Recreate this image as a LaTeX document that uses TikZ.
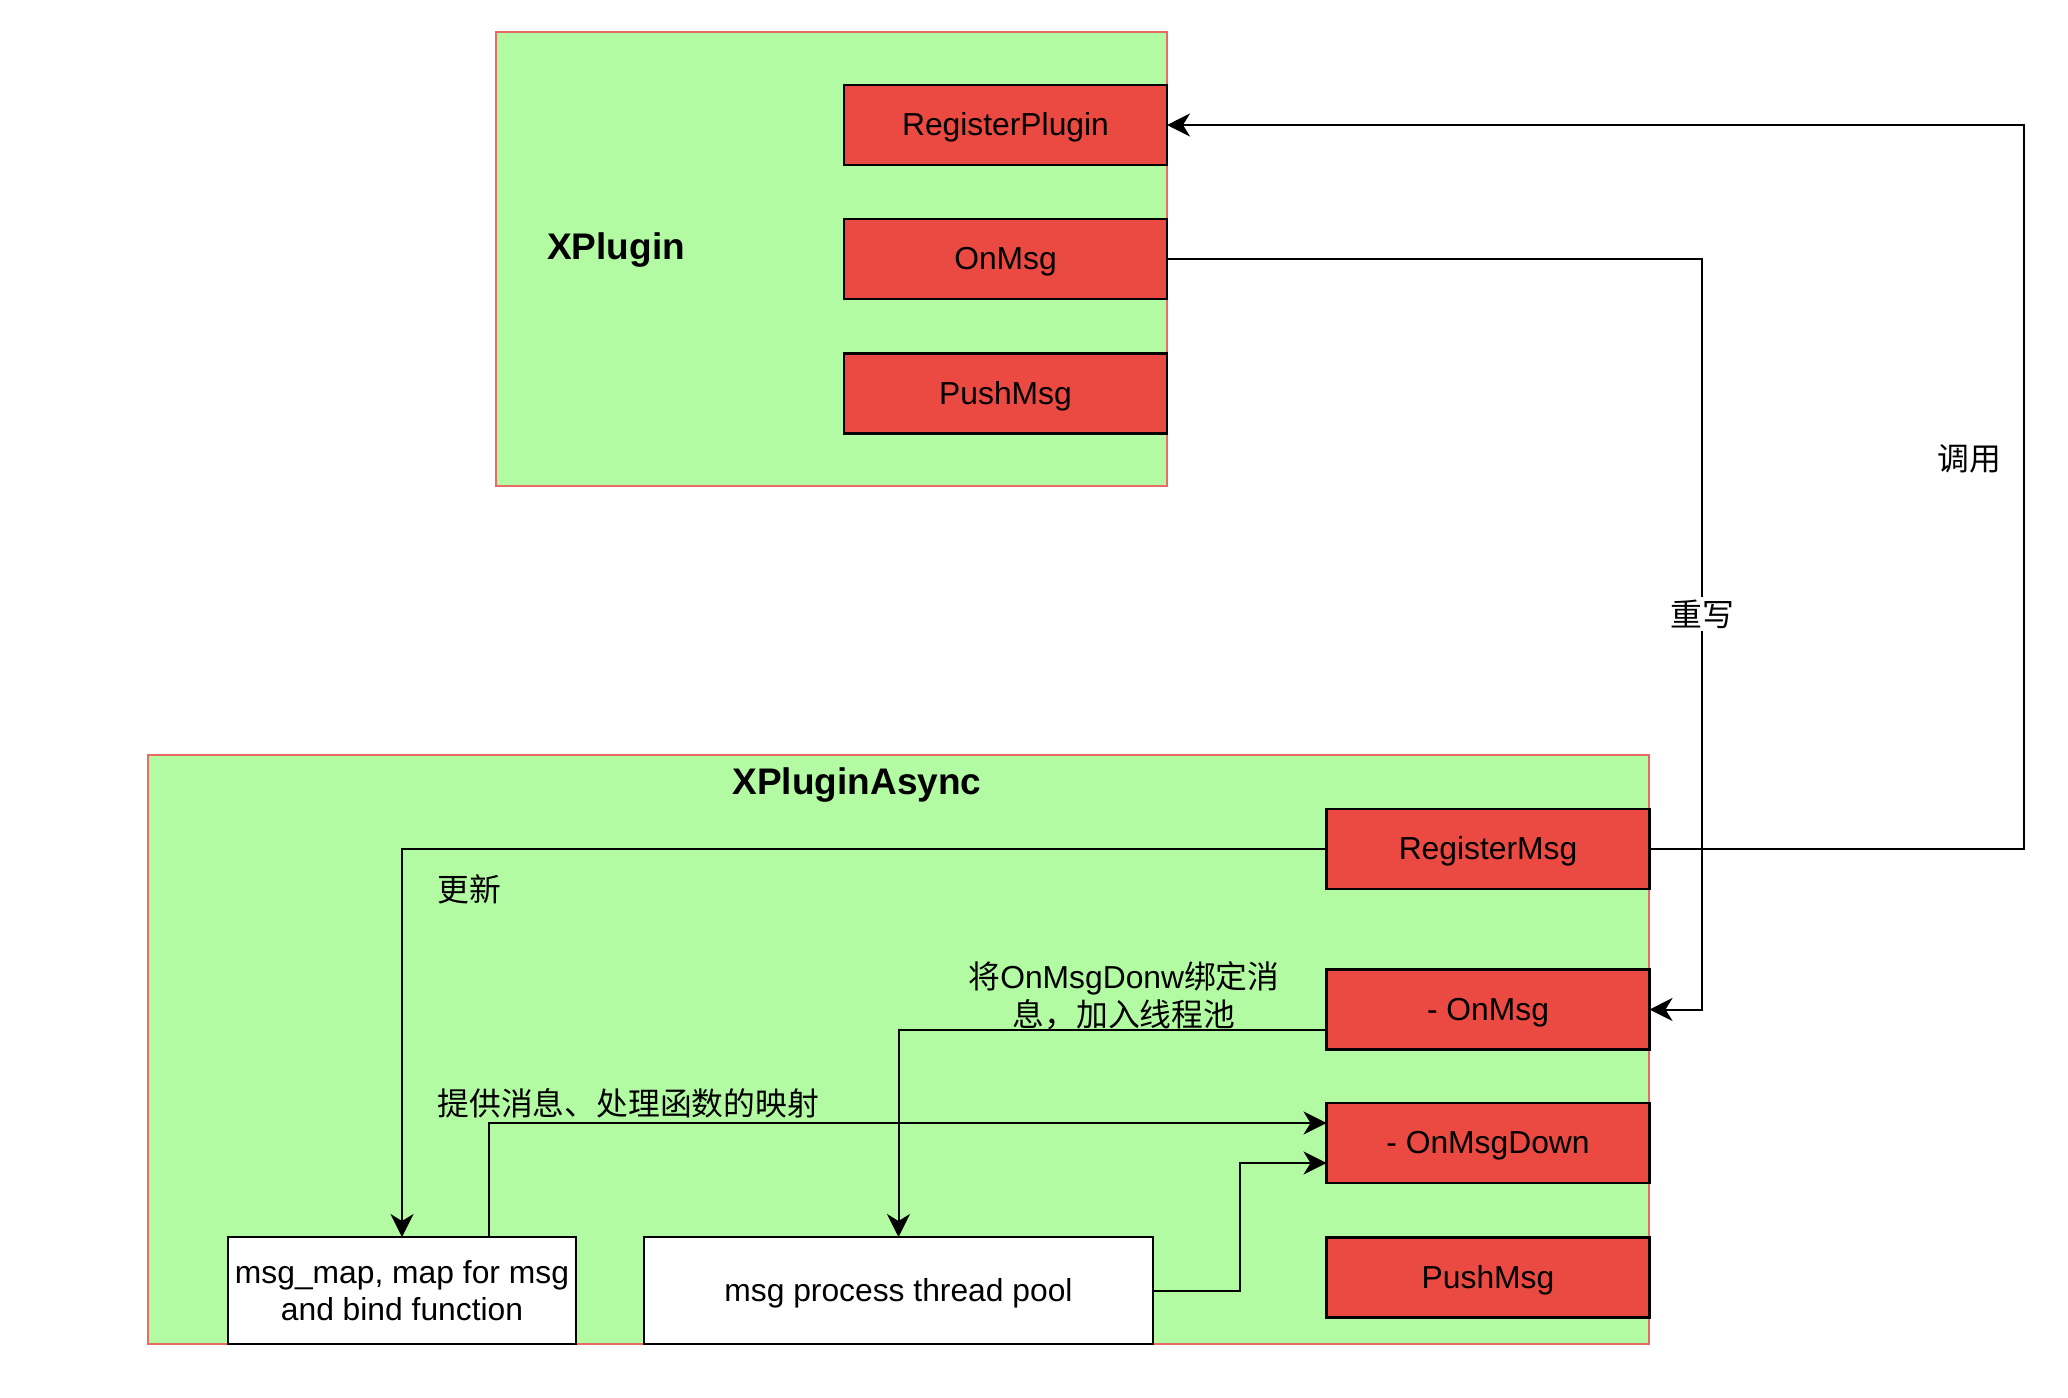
\documentclass[tikz,border=0pt]{standalone}
\usepackage{fontspec}
\setmainfont{Liberation Sans}
\newfontfamily\cjk{Noto Sans CJK SC}
\usetikzlibrary{arrows.meta,calc}
\definecolor{cgreen}{RGB}{179,251,163}
\definecolor{cborder}{RGB}{234,107,102}
\definecolor{cred}{RGB}{234,74,65}
\tikzset{
  dtext/.style={text height=14.3pt, text depth=3.35pt},
  dtitle/.style={text height=16.65pt, text depth=3.9pt},
  container/.style={draw=cborder, fill=cgreen, line width=1pt, inner sep=0pt, outer sep=0pt},
  redbox/.style={draw=black, fill=cred, line width=1.25pt, inner sep=0pt, outer sep=0pt,
    minimum width=161.5pt, minimum height=40pt, font=\fontsize{15.9}{18.5}\selectfont, dtext},
  whitebox/.style={draw=black, fill=white, line width=1.25pt, inner sep=0pt, outer sep=0pt,
    minimum height=53.5pt, align=center, font=\fontsize{15.9}{18.5}\selectfont},
  title/.style={font=\fontsize{18.5}{22}\selectfont\bfseries, inner sep=0pt, dtitle},
  lbl/.style={font=\fontsize{15.9}{19}\selectfont, inner sep=0pt},
  arr/.style={draw=black, line width=1pt, -{Stealth[length=11.5pt, width=11.5pt, inset=3.5pt]}},
}
\begin{document}
\begin{tikzpicture}[x=0.5pt, y=-0.5pt]
\useasboundingbox (0,0) rectangle (2068,1398);
\fill[white] (0,0) rectangle (2068,1398);

% containers
\node[container, minimum width=335.5pt, minimum height=227pt] (xplug) at (831.5,259) {};
\node[container, minimum width=750.5pt, minimum height=294.5pt] (xasync) at (898.5,1049.5) {};
\node[title] (xplugt) at (616,247) {XPlugin};
\node[title] (xasynct) at (857,782) {XPluginAsync};

% XPlugin methods
\node[redbox] (regplug) at (1005.5,125) {RegisterPlugin};
\node[redbox] (onmsg) at (1005.5,259) {OnMsg};
\node[redbox] (push1) at (1005.5,393.5) {PushMsg};

% XPluginAsync methods
\node[redbox] (regmsg) at (1488,849) {RegisterMsg};
\node[redbox] (onmsg2) at (1488,1009.5) {- OnMsg};
\node[redbox] (down) at (1488,1143) {- OnMsgDown};
\node[redbox] (push2) at (1488,1277.5) {PushMsg};

\node[whitebox, minimum width=174pt] (msgmap) at (402,1290.5) {msg\_map, map for msg\\and bind function};
\node[whitebox, minimum width=254.5pt, dtext] (pool) at (898.5,1290.5) {msg process thread pool};

% helper coordinates
\coordinate (callx) at (2024,0);
\coordinate (rwx) at (1702,0);
\coordinate (px) at (1240,0);
\coordinate (om2w) at ($(onmsg2.north west)!0.75!(onmsg2.south west)$);
\coordinate (mmt) at ($(msgmap.north west)!0.75!(msgmap.north east)$);
\coordinate (odw1) at ($(down.north west)!0.25!(down.south west)$);
\coordinate (odw2) at ($(down.north west)!0.75!(down.south west)$);

% connectors
\draw[arr] (regmsg.east) -- (regmsg.east -| callx) -- (regplug.east -| callx) -- (regplug.east);
\draw[arr] (onmsg.east) -- (onmsg.east -| rwx) -- (onmsg2.east -| rwx) -- (onmsg2.east);
\draw[arr] (regmsg.west) -| (msgmap.north);
\draw[arr] (om2w) -| (pool.north);
\draw[arr] (mmt) |- (odw1);
\draw[arr] (pool.east) -- (pool.east -| px) -- (odw2 -| px) -- (odw2);

% labels
\node[lbl] (lcall) at (1969,459) {\cjk 调用};
\node[lbl, fill=white, inner sep=1.5pt] (lrw) at (1702,614) {\cjk 重写};
\node[lbl, anchor=west] (lupd) at (437,889) {\cjk 更新};
\node[lbl, anchor=west] (lmap) at (437,1103) {\cjk 提供消息、处理函数的映射};
\node[lbl, align=center] (lbind) at (1124,996) {{\cjk 将}OnMsgDonw{\cjk 绑定消}\\{\cjk 息，加入线程池}};
\end{tikzpicture}
\end{document}
